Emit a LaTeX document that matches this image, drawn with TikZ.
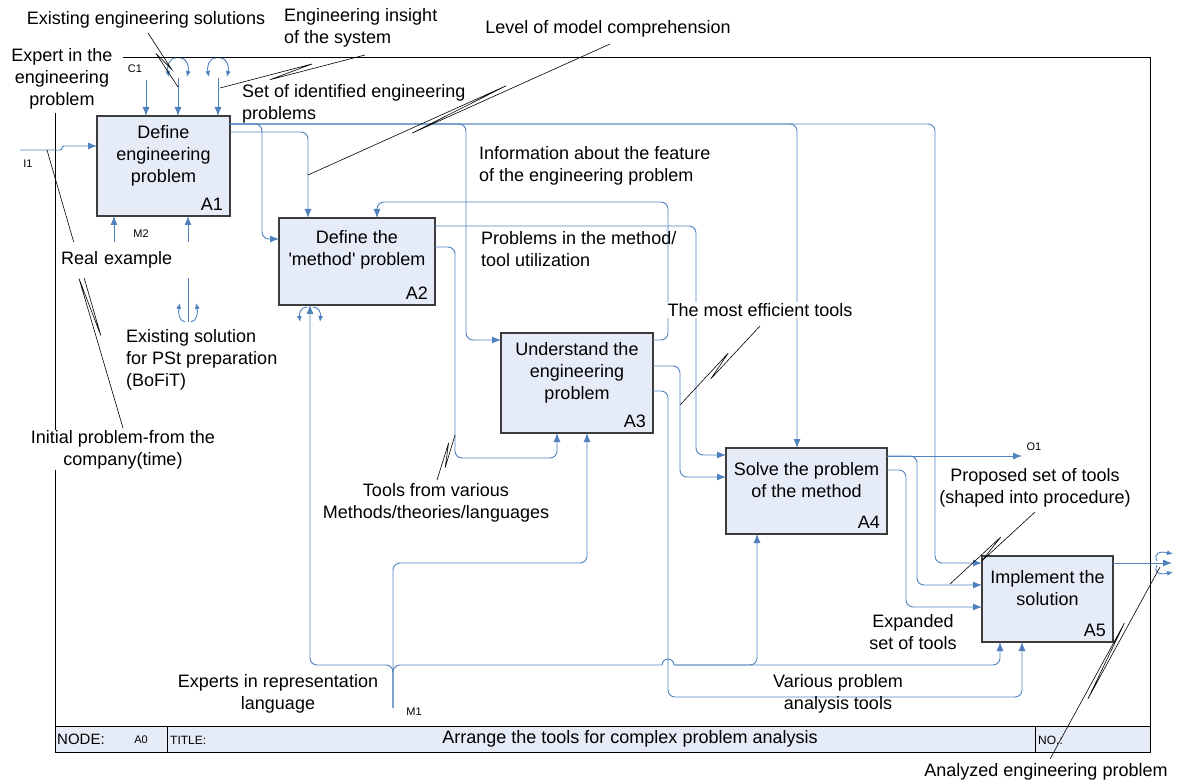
\documentclass[tikz,border=0pt]{standalone}
\usepackage{fontspec}
\setmainfont{Liberation Sans}
\usepackage{tikz}
\usetikzlibrary{positioning,arrows.meta,calc}
\definecolor{idefblue}{RGB}{79,129,189}
\definecolor{boxfill}{RGB}{230,236,247}
\definecolor{boxline}{RGB}{60,60,60}
\tikzset{
func/.style={
draw=boxline,
line width=1.1pt,
fill=boxfill,
anchor=north west,
outer sep=0pt,
inner sep=0pt
},
functext/.style={
anchor=north,
align=center,
font=\fontsize{18}{22}\selectfont,
inner sep=0pt
},
funcnum/.style={
anchor=south east,
font=\fontsize{18}{22}\selectfont,
inner xsep=7pt,
inner ysep=5pt
},
flow/.style={
draw=idefblue,
line width=0.9pt,
rounded corners=7pt,
-{Latex[length=9pt,width=7pt]}
},
wire/.style={
draw=idefblue,
line width=0.9pt,
rounded corners=7pt
},
tunnel/.style={
draw=idefblue,
line width=0.9pt,
-{Latex[length=6pt,width=5pt]}
},
leader/.style={
draw=black,
line width=0.6pt
},
sheet/.style={
draw=black,
line width=0.8pt
},
note/.style={
font=\fontsize{18}{22}\selectfont,
inner sep=1pt
},
tag/.style={
font=\fontsize{11}{13}\selectfont,
inner sep=0pt
}
}
\newcommand{\squig}[4]{\draw[leader] (#1) -- ($(#1)!#4!(#2)!3pt!90:(#2)$) -- ($(#1)!#3!(#2)!3pt!-90:(#2)$) -- (#2);}

\begin{document}
\begin{tikzpicture}[x=1pt,y=-1pt]
\useasboundingbox (0,0) rectangle (1177,783);

\draw[sheet] (55,113) -- (55,752) -- (1150,752) -- (1150,57) -- (123,57);
\draw[sheet,fill=boxfill] (55,726) rectangle (1150,752);
\draw[sheet] (167,726) -- (167,752) (1035,726) -- (1035,752);

\node[func,minimum width=133pt,minimum height=100pt] (a1) at (97,116) {};
\node[func,minimum width=156pt,minimum height=87pt] (a2) at (279,218) {};
\node[func,minimum width=152pt,minimum height=100pt] (a3) at (501,333) {};
\node[func,minimum width=161pt,minimum height=86pt] (a4) at (726,448) {};
\node[func,minimum width=131pt,minimum height=86pt] (a5) at (982,556) {};

\node[functext] (a1txt) at ([yshift=-9pt]a1.north) {Define\\engineering\\problem};
\node[functext] (a2txt) at ([yshift=-12pt]a2.north) {Define the\\\textquotesingle method\textquotesingle\ problem};
\node[functext] (a3txt) at ([yshift=-9pt]a3.north) {Understand the\\engineering\\problem};
\node[functext] (a4txt) at ([yshift=-14pt]a4.north) {Solve the problem\\of the method};
\node[functext] (a5txt) at ([yshift=-14pt]a5.north) {Implement the\\solution};
\foreach \b/\n in {a1/A1,a2/A2,a3/A3,a4/A4,a5/A5}
\node[funcnum] (\b num) at (\b.south east) {\n};

\coordinate (i1) at (20,150);
\coordinate (c1) at (146,80);
\coordinate (c2) at (178,78);
\coordinate (c3) at (218,78);
\coordinate (m2) at (114,243);
\coordinate (bofitin) at (188,322);
\coordinate (m1) at (393,708);
\coordinate (o1) at (1022,456);
\coordinate (o2) at (1172,563);
\coordinate (hopL) at (662,665);
\coordinate (hopR) at (674,665);

\draw[flow,rounded corners=2pt] (i1) -- (62,150) -- (62,146) -- (a1.west |- 0,146);
\draw[flow] (c1) -- (c1 |- a1.north);
\draw[flow] (c2) -- (c2 |- a1.north);
\draw[flow] (c3) -- (c3 |- a1.north);
\draw[flow] (m2) -- (m2 |- a1.south);
\draw[flow] (bofitin) -- (bofitin |- a1.south);

\coordinate (a1o) at (a1.east |- 0,124);
\foreach \x/\y/\t in {262/239/a2,466/340/a3,935/563/a5}
\draw[flow] (a1o) -| (\x,\y) -- (\t.west |- 0,\y);
\draw[flow] (a1o) -| (a4.north -| 797,0);
\draw[flow] (a1.east |- 0,132) -| (a2.north -| 308,0);

\draw[flow] (a2.east |- 0,226) -| (696,455) -- (a4.west |- 0,455);
\draw[flow] (a2.east |- 0,247) -| (455,458) -| (a3.south -| 557,0);

\draw[flow] (a3.east |- 0,340) -| (668,202) -| (a2.north -| 377,0);
\draw[flow] (a3.east |- 0,366) -| (680,477) -- (a4.west |- 0,477);
\draw[flow] (a3.east |- 0,391) -| (668,697) -| (a5.south -| 1022,0);

\draw[flow] (a4.east |- 0,456) -- (o1);
\draw[flow] (a4.east |- 0,456) -| (917,585) -- (a5.west |- 0,585);
\draw[flow] (a4.east |- 0,470) -| (906,607) -- (a5.west |- 0,607);

\draw[flow] (a5.east |- 0,563) -- (o2);

\draw[flow] (m1) |- (310,665) -- (a2.south -| 310,0);
\draw[flow] (m1) |- (587,563) -- (a3.south -| 587,0);
\draw[wire] (m1) |- (hopL);
\draw[wire] (hopL) arc[start angle=180,end angle=360,radius=6];
\draw[flow] (hopR) -| (a4.south -| 757,0);
\draw[flow] (hopR) -| (a5.south -| 1000,0);

\foreach \cx in {178,218}{
\draw[tunnel] (\cx-2,58) .. controls (\cx-10,58) and (\cx-11,68) .. (\cx-9,77);
\draw[tunnel] (\cx+2,58) .. controls (\cx+10,58) and (\cx+11,68) .. (\cx+9,77);
}
\draw[tunnel] (307,307) .. controls (301,307) and (299,313) .. (300,322);
\draw[tunnel] (313,307) .. controls (319,307) and (321,313) .. (320,322);
\draw[tunnel] (185,322) .. controls (179,321) and (178,312) .. (180,303);
\draw[tunnel] (191,322) .. controls (197,321) and (198,312) .. (196,303);
\draw[tunnel] (1157,561) .. controls (1153,553) and (1160,551) .. (1173,554);
\draw[tunnel] (1157,565) .. controls (1153,573) and (1160,575) .. (1173,572);

\coordinate (exsolA) at (148,33);
\coordinate (exsolB) at (178,87);
\coordinate (insA) at (365,55);
\coordinate (insB) at (220,88);
\coordinate (levA) at (610,44);
\coordinate (levB) at (308,175);
\coordinate (effA) at (760,326);
\coordinate (effB) at (680,405);
\coordinate (toolA) at (437,480);
\coordinate (toolB) at (455,435);
\coordinate (propA) at (1035,512);
\coordinate (propB) at (950,584);
\coordinate (anaA) at (1050,759);
\coordinate (anaB) at (1160,567);
\coordinate (iniA) at (123,428);
\coordinate (iniB) at (47,150);
\squig{exsolA}{exsolB}{0.35}{0.7}
\squig{insA}{insB}{0.36}{0.66}
\squig{levA}{levB}{0.34}{0.66}
\squig{effA}{effB}{0.37}{0.64}
\squig{toolA}{toolB}{0.3}{0.8}
\squig{propA}{propB}{0.38}{0.65}
\squig{anaA}{anaB}{0.32}{0.7}
\squig{iniA}{iniB}{0.33}{0.54}

\node[note] (exsol) at (146,20) {Existing engineering solutions};
\node[note,align=left,anchor=west] (insight) at (283,28) {Engineering insight\\of the system};
\node[note,align=center] (expert) at (62,79) {Expert in the\\engineering\\problem};
\node[note,align=left,anchor=west] (setprob) at (241,104) {Set of identified engineering\\problems};
\node[note] (level) at (608,29) {Level of model comprehension};
\node[note,align=left,anchor=west] (info) at (478,166) {Information about the feature\\of the engineering problem};
\node[note,align=left,anchor=west] (probmeth) at (480,249) {Problems in the method/\\tool utilization};
\node[note,fill=white] (efficient) at (760,310) {The most efficient tools};
\node[note,fill=white,anchor=west,text width=132pt,align=left,minimum height=36pt,inner sep=3pt] (realex) at (58,260) {Real example};
\node[note,align=left,anchor=west] (bofit) at (125,360) {Existing solution\\for PSt preparation\\(BoFiT)};
\node[note,fill=white,align=center] (initial) at (123,450) {Initial problem-from the\\company(time)};
\node[note,align=center] (toolsvar) at (436,503) {Tools from various\\Methods/theories/languages};
\node[note,align=center] (proposed) at (1035,488) {Proposed set of tools\\(shaped into procedure)};
\node[note,align=center] (expanded) at (913,632) {Expanded\\set of tools};
\node[note,align=center] (various) at (838,694) {Various problem\\analysis tools};
\node[note,align=center] (experts) at (278,694) {Experts in representation\\language};
\node[note] (analyzed) at (1046,772) {Analyzed engineering problem};

\node[tag] (c1tag) at (135,69) {C1};
\node[tag] (i1tag) at (28,164) {I1};
\node[tag] (m2tag) at (141,234) {M2};
\node[tag] (m1tag) at (414,712) {M1};
\node[tag] (o1tag) at (1034,447) {O1};

\node[tag,font=\fontsize{15}{17}\selectfont,anchor=west] (nodetag) at (57,739) {NODE:};
\node[tag] (a0tag) at (141,740) {A0};
\node[tag,font=\fontsize{12}{14}\selectfont,anchor=west] (titletag) at (170,740) {TITLE:};
\node[note] (titletxt) at (630,739) {Arrange the tools for complex problem analysis};
\node[tag,font=\fontsize{12}{14}\selectfont,anchor=west] (notag) at (1038,740) {NO.:};
\end{tikzpicture}
\end{document}
